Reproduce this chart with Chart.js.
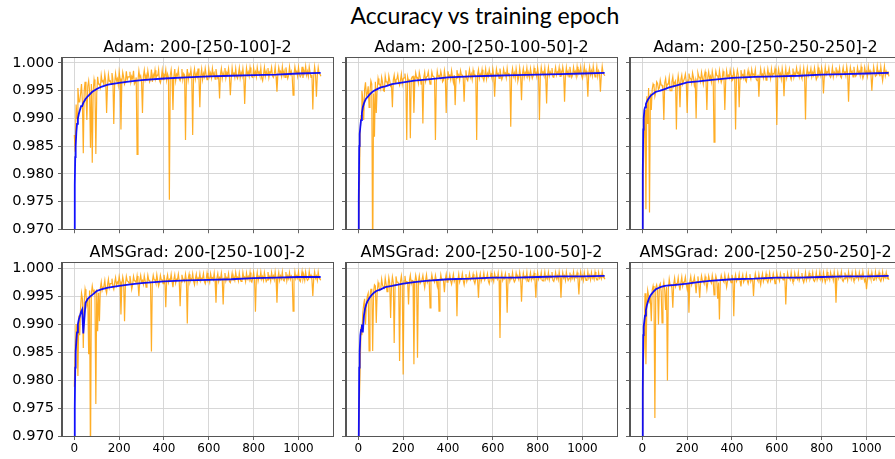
<!DOCTYPE html>
<html lang="en">
<head>
  <meta charset="UTF-8">
  <title>Accuracy vs training epoch</title>
  <script src="https://cdn.jsdelivr.net/npm/chart.js"></script>
  <style>
    html, body { margin: 0; padding: 0; background: #fff; width: 895px; height: 459px; overflow: hidden; }
    #title { position: absolute; left: 0; top: 1px; width: 970px; text-align: center;
             font-family: Lato, "Open Sans", sans-serif; font-size: 23px; color: #000; }
    canvas { position: absolute; }
  </style>
</head>
<body>
  <div id="title">Accuracy vs training epoch</div>
  <canvas id="c0"></canvas>
  <canvas id="c1"></canvas>
  <canvas id="c2"></canvas>
  <canvas id="c3"></canvas>
  <canvas id="c4"></canvas>
  <canvas id="c5"></canvas>

  <script>
    // panel titles
    const panelTitles = [
      'Adam: 200-[250-100]-2', 'Adam: 200-[250-100-50]-2', 'Adam: 200-[250-250-250]-2',
      'AMSGrad: 200-[250-100]-2', 'AMSGrad: 200-[250-100-50]-2', 'AMSGrad: 200-[250-250-250]-2'
    ];

    // tick labels
    const yTicks = [0.970, 0.975, 0.980, 0.985, 0.990, 0.995, 1.000];
    const xTicks = [0, 200, 400, 600, 800, 1000];

    // validation accuracy (orange): values at epochs 0, 8, 16, ... (tops and spikes)
    // and at epochs 4, 12, 20, ... (the body of the noisy band)
    const orangeEpochs = Array.from({ length: 138 }, (_, i) => i * 8);
    const orangeEpochsMid = orangeEpochs.map(e => e + 4);

    const orangeAdam1 = [
      0.987,0.9925,0.9955,0.993,0.9962,0.9837,0.9966,0.9897,0.9968,0.9847,
      0.982,0.997,0.9836,0.9975,0.9962,0.9978,0.9968,0.998,0.991,0.9979,
      0.9968,0.9982,0.989,0.9981,0.9972,0.9984,0.988,0.9983,0.9962,0.9985,
      0.9975,0.9984,0.9976,0.9986,0.9965,0.9835,0.9986,0.9977,0.991,0.9987,
      0.9978,0.9986,0.9966,0.9988,0.9979,0.9987,0.9978,0.9988,0.9964,0.9987,
      0.9979,0.9988,0.998,0.9753,0.9988,0.9915,0.9989,0.998,0.9988,0.9968,
      0.9989,0.9981,0.9861,0.9989,0.998,0.9988,0.987,0.9989,0.9981,0.999,
      0.992,0.9989,0.9981,0.999,0.997,0.9989,0.9982,0.999,0.9982,0.9989,
      0.9972,0.9936,0.999,0.9982,0.9991,0.9983,0.999,0.9942,0.9991,0.9983,
      0.999,0.9972,0.9991,0.9983,0.999,0.9926,0.9991,0.9984,0.9992,0.9975,
      0.9991,0.9984,0.9992,0.9984,0.9991,0.9968,0.9992,0.9985,0.9991,0.9984,
      0.9992,0.9974,0.9993,0.9948,0.9992,0.9985,0.9993,0.9985,0.9992,0.9972,
      0.9993,0.9985,0.9942,0.9993,0.9985,0.9992,0.9975,0.9993,0.9986,0.9994,
      0.9985,0.9993,0.9974,0.9916,0.9993,0.9939,0.9992,0.998
    ];
    const orangeAdam1Mid = [
      0.984,0.990,0.993,0.9945,0.993,0.995,0.9942,0.9958,0.995,0.9962,
      0.9949,0.9958,0.9944,0.9962,0.9956,0.9966,0.996,0.9968,0.9959,0.9967,
      0.9962,0.997,0.9964,0.9968,0.996,0.9972,0.9966,0.9974,0.9967,0.997,
      0.9975,0.9966,0.9972,0.9962,0.9974,0.9969,0.9973,0.9965,0.9976,0.997,
      0.9968,0.9975,0.9971,0.9966,0.9974,0.9972,0.9977,0.9968,0.9973,0.997,
      0.9976,0.9969,0.9974,0.9978,0.9971,0.9975,0.9968,0.9977,0.9972,0.9974,
      0.997,0.9978,0.9973,0.9969,0.9976,0.9974,0.9979,0.9971,0.9975,0.9972,
      0.9977,0.997,0.9975,0.9979,0.9972,0.9976,0.9973,0.9978,0.9971,0.9977,
      0.9974,0.998,0.9972,0.9976,0.9973,0.9979,0.9975,0.9971,0.9978,0.9974,
      0.9976,0.998,0.9973,0.9977,0.9975,0.9972,0.9979,0.9976,0.9981,0.9974,
      0.9978,0.9975,0.9981,0.9977,0.9973,0.998,0.9976,0.9979,0.9974,0.9982,
      0.9977,0.998,0.9975,0.9979,0.9982,0.9976,0.9978,0.9974,0.9981,0.9977,
      0.998,0.9975,0.9979,0.9982,0.9976,0.998,0.9978,0.9973,0.9981,0.9978,
      0.9976,0.9982,0.9979,0.9975,0.998,0.9977,0.9981,0.9976
    ];
    const orangeAdam2 = [
      0.965,0.9875,0.995,0.9897,0.9965,0.9945,0.992,0.9968,0.962,0.9867,
      0.991,0.9972,0.9962,0.9974,0.995,0.9976,0.9966,0.9977,0.9958,0.992,
      0.9978,0.997,0.9979,0.996,0.998,0.9972,0.9981,0.9861,0.9968,0.9864,
      0.9975,0.991,0.9982,0.9974,0.9983,0.9962,0.9891,0.9983,0.9975,0.9984,
      0.9962,0.9984,0.9976,0.9861,0.9985,0.9977,0.9985,0.9966,0.9986,0.991,
      0.9985,0.9978,0.9986,0.9965,0.9924,0.9987,0.9979,0.9986,0.9978,0.993,
      0.9987,0.9968,0.9988,0.998,0.9987,0.9979,0.9861,0.9988,0.998,0.9988,
      0.9968,0.9989,0.9981,0.9988,0.998,0.9989,0.9939,0.9989,0.9981,0.999,
      0.997,0.9989,0.9982,0.999,0.9982,0.9885,0.999,0.9982,0.999,0.9968,
      0.9991,0.9933,0.999,0.9983,0.9991,0.9983,0.999,0.9972,0.9991,0.9983,
      0.9991,0.9897,0.9992,0.9984,0.9991,0.9927,0.9992,0.9984,0.9991,0.9974,
      0.9992,0.9984,0.9992,0.9985,0.9993,0.993,0.9992,0.9985,0.9993,0.9974,
      0.9992,0.9985,0.9993,0.9986,0.9993,0.9972,0.9994,0.9986,0.9939,0.9993,
      0.9986,0.9994,0.9975,0.9993,0.9986,0.9948,0.9994,0.9982
    ];
    const orangeAdam2Mid = [
      0.975,0.9905,0.9935,0.9952,0.994,0.9958,0.9948,0.9962,0.9945,0.9966,
      0.9952,0.9962,0.9954,0.9965,0.9949,0.9966,0.9958,0.9968,0.996,0.9969,
      0.9963,0.9971,0.9966,0.9969,0.9962,0.9973,0.9967,0.9975,0.9969,0.9971,
      0.9976,0.9968,0.9973,0.9964,0.9975,0.997,0.9974,0.9967,0.9976,0.9971,
      0.9969,0.9976,0.9972,0.9967,0.9975,0.9973,0.9977,0.9969,0.9974,0.9971,
      0.9976,0.997,0.9975,0.9978,0.9972,0.9976,0.9969,0.9978,0.9973,0.9975,
      0.9971,0.9978,0.9974,0.997,0.9977,0.9975,0.9979,0.9972,0.9976,0.9973,
      0.9978,0.9971,0.9976,0.9979,0.9973,0.9977,0.9974,0.9979,0.9972,0.9978,
      0.9975,0.998,0.9973,0.9977,0.9974,0.9979,0.9976,0.9972,0.9979,0.9975,
      0.9977,0.998,0.9974,0.9978,0.9976,0.9973,0.998,0.9977,0.9981,0.9975,
      0.9979,0.9976,0.9981,0.9978,0.9974,0.998,0.9977,0.998,0.9975,0.9982,
      0.9978,0.9981,0.9976,0.998,0.9982,0.9977,0.9979,0.9975,0.9982,0.9978,
      0.9981,0.9976,0.998,0.9982,0.9977,0.9981,0.9979,0.9974,0.9982,0.9979,
      0.9977,0.9982,0.998,0.9976,0.9981,0.9978,0.9982,0.9977
    ];
    const orangeAdam3 = [
      0.962,0.988,0.9736,0.989,0.973,0.9915,0.9962,0.994,0.9966,0.9952,
      0.9969,0.996,0.9897,0.9972,0.9962,0.9974,0.995,0.9975,0.9965,0.988,
      0.9977,0.992,0.9978,0.9968,0.998,0.991,0.9981,0.9972,0.9982,0.996,
      0.99,0.9982,0.9974,0.9983,0.9962,0.9984,0.9915,0.9984,0.9976,0.9985,
      0.9857,0.9985,0.9977,0.9986,0.9965,0.9985,0.9915,0.9986,0.9978,0.9987,
      0.9968,0.9986,0.988,0.9987,0.992,0.9987,0.9979,0.9988,0.9966,0.9987,
      0.9979,0.9988,0.998,0.9988,0.9968,0.9939,0.9989,0.998,0.9988,0.9969,
      0.9989,0.9981,0.9989,0.9981,0.999,0.9888,0.9989,0.9981,0.999,0.994,
      0.999,0.9982,0.9989,0.997,0.999,0.9982,0.9991,0.9983,0.999,0.9972,
      0.9991,0.9898,0.9991,0.9983,0.999,0.9983,0.9991,0.997,0.9992,0.9984,
      0.9991,0.9945,0.9992,0.9984,0.9991,0.9974,0.9992,0.9984,0.9992,0.9985,
      0.9991,0.9973,0.9992,0.9985,0.9993,0.993,0.9992,0.9985,0.9993,0.9976,
      0.9992,0.9985,0.9993,0.9972,0.9992,0.9985,0.9993,0.9986,0.995,0.9993,
      0.9976,0.9994,0.9985,0.9993,0.9968,0.9994,0.9985,0.9985
    ];
    const orangeAdam3Mid = [
      0.980,0.9915,0.994,0.9955,0.9945,0.9952,0.9958,0.9948,0.9963,0.9955,
      0.996,0.9952,0.9964,0.9956,0.9962,0.995,0.9966,0.9959,0.9968,0.9962,
      0.9965,0.997,0.9962,0.9972,0.9966,0.9969,0.9973,0.9964,0.9974,0.9968,
      0.9971,0.9975,0.9967,0.9973,0.9976,0.9969,0.9974,0.9971,0.9966,0.9975,
      0.9972,0.9977,0.9969,0.9974,0.9971,0.9976,0.9968,0.9975,0.9973,0.9978,
      0.997,0.9976,0.9974,0.9979,0.9971,0.9977,0.9973,0.9969,0.9978,0.9975,
      0.9972,0.9978,0.9976,0.9971,0.9979,0.9974,0.9977,0.9973,0.998,0.9975,
      0.9978,0.9972,0.9977,0.998,0.9974,0.9978,0.9976,0.9971,0.9979,0.9977,
      0.9973,0.998,0.9976,0.9979,0.9974,0.9978,0.9981,0.9975,0.9977,0.998,
      0.9974,0.9979,0.9977,0.9981,0.9975,0.9978,0.998,0.9974,0.9979,0.9977,
      0.9981,0.9976,0.9979,0.9982,0.9977,0.998,0.9975,0.9981,0.9978,0.998,
      0.9976,0.9982,0.9979,0.9977,0.9981,0.9978,0.9982,0.9975,0.998,0.9979,
      0.9982,0.9977,0.998,0.9978,0.9982,0.9976,0.9981,0.9979,0.9977,0.9982,
      0.9978,0.9981,0.9976,0.998,0.9982,0.9977,0.998,0.9976
    ];
    const orangeAms1 = [
      0.9788,0.99,0.9807,0.988,0.9955,0.9857,0.9962,0.9935,0.9846,0.965,
      0.9968,0.996,0.9757,0.9887,0.9905,0.9975,0.9966,0.9978,0.9955,0.998,
      0.9972,0.9981,0.9962,0.9983,0.9975,0.9985,0.9917,0.9984,0.9905,0.9985,
      0.9976,0.9986,0.9962,0.9985,0.9977,0.9986,0.995,0.9987,0.9978,0.9986,
      0.9966,0.9987,0.9978,0.9851,0.9987,0.9979,0.9988,0.9968,0.9987,0.9979,
      0.9988,0.993,0.9988,0.998,0.9989,0.9966,0.9988,0.998,0.9989,0.9932,
      0.9988,0.998,0.9989,0.9901,0.9989,0.9981,0.999,0.997,0.9989,0.9982,
      0.999,0.9982,0.999,0.9972,0.9991,0.9982,0.999,0.9983,0.9991,0.9938,
      0.999,0.9983,0.9991,0.9935,0.9991,0.9983,0.999,0.9974,0.9991,0.9984,
      0.9992,0.9984,0.9991,0.9976,0.9992,0.9984,0.9991,0.9985,0.9992,0.9975,
      0.9992,0.9922,0.9992,0.9985,0.9993,0.9985,0.9992,0.9976,0.9993,0.9985,
      0.9992,0.9986,0.9993,0.9938,0.9992,0.9986,0.9993,0.9977,0.9993,0.9986,
      0.9992,0.9986,0.9923,0.9993,0.9986,0.9993,0.9976,0.9994,0.9987,0.9993,
      0.9978,0.9994,0.9987,0.995,0.9993,0.9986,0.9993,0.998
    ];
    const orangeAms1Mid = [
      0.985,0.988,0.9915,0.993,0.9945,0.9938,0.9952,0.9946,0.996,0.9955,
      0.9957,0.9952,0.9962,0.9956,0.9964,0.996,0.9968,0.9962,0.997,0.9965,
      0.9972,0.9967,0.9974,0.9969,0.9972,0.9976,0.997,0.9975,0.9971,0.9977,
      0.9973,0.9976,0.997,0.9977,0.9974,0.9972,0.9978,0.9975,0.9971,0.9977,
      0.9974,0.9978,0.9972,0.9976,0.9979,0.9973,0.9977,0.9975,0.9979,0.9972,
      0.9977,0.998,0.9974,0.9978,0.9976,0.998,0.9973,0.9979,0.9977,0.9975,
      0.998,0.9976,0.9978,0.9981,0.9975,0.9979,0.9977,0.9981,0.9974,0.9979,
      0.9977,0.9981,0.9976,0.998,0.9978,0.9975,0.9981,0.9979,0.9977,0.9982,
      0.9976,0.998,0.9978,0.9982,0.9977,0.998,0.9976,0.9981,0.9979,0.9978,
      0.9982,0.9977,0.998,0.9978,0.9982,0.9976,0.9981,0.9979,0.9977,0.9982,
      0.9979,0.9981,0.9977,0.9982,0.998,0.9978,0.9983,0.9979,0.9981,0.9977,
      0.9982,0.9979,0.9981,0.9983,0.9978,0.9981,0.9979,0.9983,0.9977,0.9981,
      0.998,0.9983,0.9978,0.9981,0.9982,0.9979,0.9983,0.998,0.9978,0.9982,
      0.998,0.9983,0.9979,0.9981,0.9982,0.9978,0.9982,0.9979
    ];
    const orangeAms2 = [
      0.962,0.9819,0.988,0.9935,0.9899,0.995,0.9852,0.9962,0.9852,0.997,
      0.9902,0.9974,0.996,0.998,0.9966,0.9982,0.9958,0.9983,0.9911,0.9984,
      0.9866,0.9985,0.9975,0.9834,0.9986,0.981,0.9986,0.9976,0.9935,0.9987,
      0.9978,0.9828,0.9987,0.984,0.9986,0.9977,0.9987,0.9965,0.9988,0.9978,
      0.9929,0.9988,0.9979,0.9987,0.9968,0.9923,0.9988,0.998,0.9957,0.9989,
      0.998,0.9988,0.9971,0.9989,0.9981,0.9914,0.9989,0.9981,0.999,0.997,
      0.9989,0.9982,0.999,0.9982,0.9989,0.9972,0.999,0.9947,0.999,0.9982,
      0.9991,0.9983,0.999,0.9972,0.9991,0.9983,0.999,0.9984,0.9991,0.9875,
      0.9991,0.9983,0.999,0.992,0.9991,0.9984,0.9992,0.9975,0.9991,0.9984,
      0.9992,0.994,0.9991,0.9985,0.9992,0.9976,0.9992,0.9985,0.9991,0.9947,
      0.9992,0.9985,0.9992,0.9977,0.9993,0.9985,0.9992,0.9986,0.9993,0.9976,
      0.9992,0.9986,0.9993,0.9947,0.9992,0.9986,0.9993,0.9978,0.9992,0.9986,
      0.9993,0.9986,0.9992,0.9953,0.9993,0.9986,0.9992,0.9978,0.9993,0.9987,
      0.9992,0.9986,0.9993,0.9979,0.9992,0.9986,0.9993,0.9984
    ];
    const orangeAms2Mid = [
      0.975,0.9895,0.992,0.9945,0.9935,0.9955,0.9948,0.9962,0.9957,0.9968,
      0.9956,0.9966,0.9962,0.9969,0.9964,0.9971,0.9966,0.9973,0.9968,0.9974,
      0.997,0.9975,0.9972,0.9976,0.9971,0.9977,0.9973,0.9975,0.9978,0.9972,
      0.9977,0.9974,0.9978,0.9976,0.9973,0.9979,0.9975,0.9978,0.9974,0.9979,
      0.9976,0.9979,0.9975,0.9978,0.998,0.9974,0.9979,0.9977,0.998,0.9975,
      0.9979,0.9977,0.998,0.9976,0.9981,0.9978,0.9975,0.998,0.9978,0.9981,
      0.9976,0.998,0.9979,0.9981,0.9977,0.998,0.9978,0.9982,0.9976,0.9981,
      0.9979,0.9982,0.9977,0.9981,0.9979,0.9976,0.9982,0.998,0.9978,0.9982,
      0.9978,0.9981,0.9979,0.9982,0.9977,0.9981,0.998,0.9978,0.9983,0.9979,
      0.9981,0.9978,0.9982,0.998,0.9977,0.9983,0.9979,0.9981,0.9978,0.9982,
      0.998,0.9982,0.9978,0.9983,0.998,0.9981,0.9979,0.9983,0.9978,0.9982,
      0.9981,0.9979,0.9983,0.998,0.9982,0.9978,0.9983,0.9981,0.9979,0.9982,
      0.998,0.9983,0.9979,0.9982,0.9981,0.9978,0.9983,0.998,0.9982,0.9979,
      0.9982,0.998,0.9983,0.9979,0.9982,0.9981,0.9983,0.998
    ];
    const orangeAms3 = [
      0.962,0.9857,0.9828,0.996,0.994,0.9905,0.9968,0.9732,0.997,0.9899,
      0.9972,0.9902,0.9975,0.9925,0.9799,0.998,0.997,0.9929,0.9982,0.9972,
      0.9983,0.996,0.9984,0.9975,0.9984,0.9962,0.992,0.9985,0.9976,0.9984,
      0.9955,0.9985,0.9947,0.9986,0.9977,0.9985,0.9962,0.9986,0.9977,0.9987,
      0.9952,0.9986,0.9945,0.9908,0.9987,0.9978,0.9988,0.9966,0.9987,0.9979,
      0.9988,0.9914,0.9988,0.998,0.9989,0.9967,0.9988,0.998,0.9989,0.9972,
      0.9989,0.9981,0.995,0.999,0.9981,0.9989,0.997,0.999,0.9982,0.999,
      0.9974,0.9991,0.9982,0.999,0.9972,0.9991,0.9983,0.999,0.9983,0.9991,
      0.9935,0.9991,0.9983,0.9992,0.9975,0.9991,0.9984,0.9992,0.9984,0.9991,
      0.9974,0.9992,0.9984,0.9991,0.9985,0.9992,0.9976,0.9992,0.9985,0.9993,
      0.9985,0.9992,0.9974,0.9993,0.9985,0.9992,0.9986,0.9993,0.9938,0.9992,
      0.9986,0.9993,0.9976,0.9992,0.9986,0.9993,0.9986,0.9992,0.9977,0.9993,
      0.9986,0.9992,0.9987,0.9993,0.9976,0.9962,0.9993,0.9987,0.9992,0.9978,
      0.9993,0.9987,0.9992,0.9976,0.9993,0.9987,0.9992,0.9984
    ];
    const orangeAms3Mid = [
      0.983,0.9955,0.993,0.995,0.9945,0.996,0.9955,0.9965,0.996,0.9968,
      0.9958,0.9964,0.996,0.9966,0.9962,0.9969,0.9964,0.9971,0.9967,0.9972,
      0.9969,0.9974,0.9968,0.9975,0.9971,0.9973,0.9976,0.997,0.9975,0.9972,
      0.9976,0.9971,0.9974,0.9977,0.9972,0.9976,0.9974,0.9978,0.9973,0.9977,
      0.9975,0.9979,0.9974,0.9977,0.998,0.9975,0.9978,0.9976,0.9979,0.9974,
      0.9978,0.998,0.9976,0.9979,0.9977,0.9981,0.9975,0.9979,0.9978,0.998,
      0.9976,0.998,0.9978,0.9981,0.9977,0.9979,0.9982,0.9976,0.998,0.9978,
      0.9981,0.9977,0.998,0.9982,0.9978,0.9981,0.9977,0.9982,0.9979,0.998,
      0.9978,0.9982,0.9979,0.9981,0.9977,0.9982,0.998,0.9978,0.9983,0.9979,
      0.9981,0.9978,0.9982,0.998,0.9983,0.9978,0.9981,0.9979,0.9982,0.998,
      0.9978,0.9983,0.998,0.9981,0.9979,0.9983,0.9978,0.9982,0.998,0.9981,
      0.9983,0.9979,0.9981,0.9982,0.9978,0.9983,0.998,0.9982,0.9979,0.9983,
      0.998,0.9982,0.9979,0.9983,0.9981,0.9978,0.9982,0.998,0.9983,0.9979,
      0.9981,0.9983,0.9979,0.9982,0.998,0.9983,0.9981,0.9979
    ];

    // training accuracy (blue)
    const blueEpochs = [0, 2, 4, 6, 9, 12, 16, 20, 25, 30, 35, 40, 50, 60, 70, 80, 100, 120, 150, 200,
                        250, 300, 400, 500, 600, 700, 800, 900, 1000, 1099];
    const blueAdam1 = [0.90,0.978,0.983,0.985,0.9875,0.989,0.990,0.9908,0.9915,0.9922,0.9922,0.9928,0.9935,0.994,0.9944,
                       0.9948,0.9953,0.9957,0.9961,0.9964,0.9967,0.9969,0.9972,0.9974,0.9976,0.9977,0.9978,0.9979,0.9981,0.9982];
    const blueAdam2 = [0.90,0.975,0.985,0.9872,0.9885,0.9897,0.991,0.992,0.9927,0.9932,0.9936,0.9938,0.9943,0.9947,0.995,
                       0.9952,0.9956,0.9958,0.9962,0.9965,0.9968,0.997,0.9974,0.9976,0.9977,0.9978,0.9979,0.998,0.9981,0.9982];
    const blueAdam3 = [0.90,0.98,0.988,0.99,0.9915,0.992,0.9926,0.993,0.9934,0.9937,0.994,0.9942,0.9945,0.9948,0.9949,
                       0.995,0.9953,0.9956,0.9959,0.9965,0.9967,0.9969,0.9973,0.9975,0.9976,0.9977,0.9979,0.998,0.9981,0.9982];
    const blueAms1 = [0.90,0.975,0.9822,0.985,0.987,0.9885,0.99,0.9908,0.9915,0.9922,0.9926,0.9883,0.9938,0.9945,0.9949,
                      0.9952,0.9959,0.9962,0.9965,0.9968,0.9971,0.9973,0.9976,0.9978,0.9979,0.998,0.9982,0.9983,0.9984,0.9984];
    const blueAms2 = [0.90,0.97,0.9822,0.985,0.988,0.989,0.9899,0.9885,0.9915,0.9928,0.9935,0.994,0.9947,0.9952,0.9956,
                      0.9959,0.9962,0.9966,0.9968,0.9972,0.9975,0.9977,0.998,0.9981,0.9983,0.9983,0.9984,0.9985,0.9985,0.9986];
    const blueAms3 = [0.90,0.978,0.988,0.9895,0.9905,0.9915,0.9925,0.9933,0.994,0.9946,0.995,0.9953,0.9958,0.9962,0.9964,
                      0.9966,0.9968,0.9969,0.997,0.9972,0.9975,0.9977,0.998,0.9981,0.9983,0.9983,0.9984,0.9985,0.9985,0.9986];

    const orangeSeries = [orangeAdam1, orangeAdam2, orangeAdam3, orangeAms1, orangeAms2, orangeAms3];
    const orangeMidSeries = [orangeAdam1Mid, orangeAdam2Mid, orangeAdam3Mid, orangeAms1Mid, orangeAms2Mid, orangeAms3Mid];
    const blueSeries = [blueAdam1, blueAdam2, blueAdam3, blueAms1, blueAms2, blueAms3];

    // layout of the 2x3 grid (chart area edges in page pixels)
    const colLeft = [62, 346, 630];
    const rowTop = [58, 263];
    const rowBottom = [230, 436];
    const plotW = 271;

    Chart.defaults.font.family = 'DejaVu Sans';
    Chart.defaults.color = '#000';

    // top/right spines
    const framePlugin = {
      id: 'frame',
      afterDatasetsDraw(chart) {
        const a = chart.chartArea, ctx = chart.ctx;
        ctx.save();
        ctx.strokeStyle = '#555';
        ctx.lineWidth = 1;
        ctx.strokeRect(Math.round(a.left) - 0.5, Math.round(a.top) - 0.5,
                       Math.round(a.right - a.left) + 1, Math.round(a.bottom - a.top) + 1);
        ctx.restore();
      }
    };

    // subplot title centred over the plot area (not the whole canvas)
    const subTitlePlugin = {
      id: 'subTitle',
      afterDraw(chart, args, opts) {
        const a = chart.chartArea, ctx = chart.ctx;
        ctx.save();
        ctx.font = '16px "DejaVu Sans"';
        ctx.fillStyle = '#000';
        ctx.textAlign = 'center';
        ctx.textBaseline = 'middle';
        ctx.fillText(opts.text, (a.left + a.right) / 2, a.top - 10);
        ctx.restore();
      }
    };

    for (let i = 0; i < 6; i++) {
      const col = i % 3, row = Math.floor(i / 3);
      const yAxisW = col === 0 ? 62 : 8;
      const xAxisH = row === 1 ? 23 : 12;
      const top = rowTop[row] - 24;
      const left = colLeft[col] - yAxisW;
      const canvas = document.getElementById('c' + i);
      canvas.width = yAxisW + plotW + 2;
      canvas.height = rowBottom[row] - top + xAxisH;
      canvas.style.left = left + 'px';
      canvas.style.top = top + 'px';

      // interleave the two orange lists by epoch
      const orangePoints = [];
      orangeEpochs.forEach((e, k) => {
        orangePoints.push({ x: e, y: orangeSeries[i][k] });
        orangePoints.push({ x: orangeEpochsMid[k], y: orangeMidSeries[i][k] });
      });

      new Chart(canvas.getContext('2d'), {
        type: 'line',
        data: {
          datasets: [
            {
              label: 'train',
              data: blueEpochs.map((e, k) => ({ x: e, y: blueSeries[i][k] })),
              borderColor: 'rgba(0,0,255,0.92)',
              borderWidth: 1.8,
              clip: 0
            },
            {
              label: 'validation',
              data: orangePoints,
              borderColor: 'rgba(255,160,0,0.85)',
              borderWidth: 1.2,
              clip: 0
            }
          ]
        },
        options: {
          responsive: false,
          animation: false,
          events: [],
          layout: { padding: { left: 0, right: 2, top: 24, bottom: 0 } },
          elements: { point: { radius: 0 }, line: { tension: 0 } },
          plugins: {
            legend: { display: false },
            tooltip: { enabled: false },
            title: { display: false },
            subTitle: { text: panelTitles[i] }
          },
          scales: {
            x: {
              type: 'linear',
              min: -55,
              max: 1154,
              afterBuildTicks: s => { s.ticks = xTicks.map(v => ({ value: v })); },
              afterFit: s => { s.height = xAxisH; },
              ticks: {
                font: { size: 12 },
                padding: 2,
                maxRotation: 0,
                callback: v => row === 1 ? String(v) : ''
              },
              grid: { color: '#d2d2d2', lineWidth: 0.9, tickLength: 4, tickColor: '#555' },
              border: { color: '#555', width: 1 }
            },
            y: {
              min: 0.970,
              max: 1.0009,
              afterBuildTicks: s => { s.ticks = yTicks.map(v => ({ value: v })); },
              afterFit: s => { s.width = yAxisW; },
              ticks: {
                font: { size: 14.6 },
                padding: 4,
                callback: v => col === 0 ? v.toFixed(3) : ''
              },
              grid: { color: '#d2d2d2', lineWidth: 0.9, tickLength: 4, tickColor: '#555' },
              border: { color: '#555', width: 1 }
            }
          }
        },
        plugins: [framePlugin, subTitlePlugin]
      });
    }
  </script>
</body>
</html>
